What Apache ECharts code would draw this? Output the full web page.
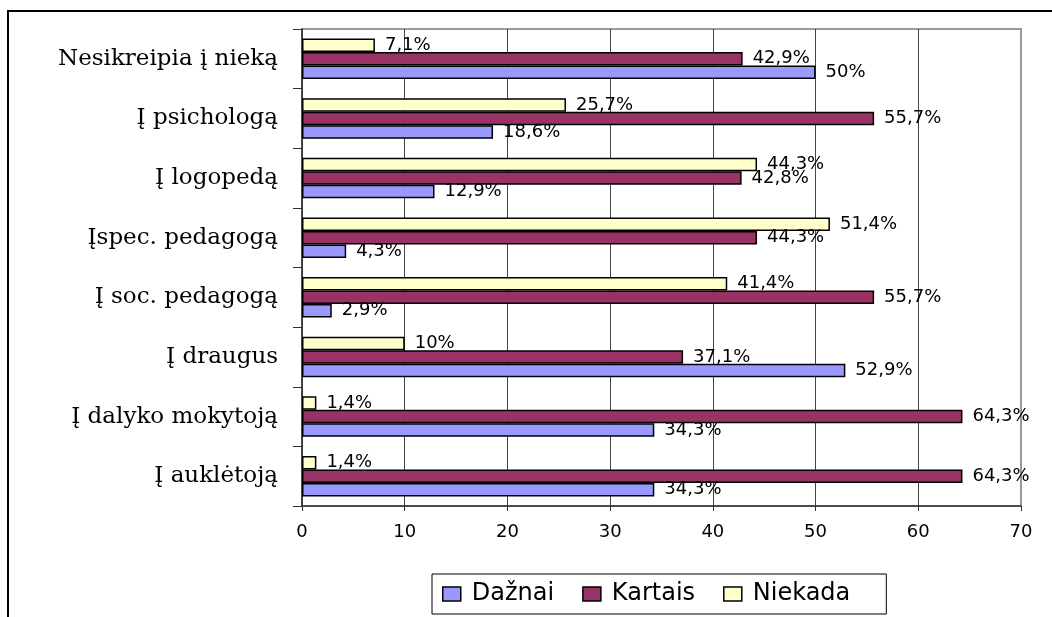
<!DOCTYPE html>
<html>
<head>
<meta charset="utf-8">
<style>
  html, body { margin: 0; padding: 0; background: #fff; }
  #chart { width: 1052px; height: 617px; }
</style>
<script src="https://cdn.jsdelivr.net/npm/echarts@6/dist/echarts.min.js"></script>
</head>
<body>
<div id="chart"></div>
<script>
// kategorijos (nuo apačios į viršų)
const categories = ['Į auklėtoją', 'Į dalyko mokytoją', 'Į draugus', 'Į soc. pedagogą',
  'Įspec. pedagogą', 'Į logopedą', 'Į psichologą', 'Nesikreipia į nieką']
const daznai = [34.3, 34.3, 52.9, 2.9, 4.3, 12.9, 18.6, 50]
const kartais = [64.3, 64.3, 37.1, 55.7, 44.3, 42.8, 55.7, 42.9]
const niekada = [1.4, 1.4, 10, 41.4, 51.4, 44.3, 25.7, 7.1]
const seriesNames = ['Dažnai', 'Kartais', 'Niekada']
const colors = ['#9999FF', '#993366', '#FFFFCC']

const chart = echarts.init(document.getElementById('chart'))

function makeSeries (name, data, color) {
  return {
    name: name,
    type: 'bar',
    data: data,
    barGap: '0%',
    barCategoryGap: '32%',
    itemStyle: { color: color, borderColor: '#000', borderWidth: 1.5 },
    label: {
      show: true,
      position: 'right',
      distance: 10,
      color: '#000',
      fontFamily: 'DejaVu Sans',
      fontSize: 18,
      formatter: p => String(p.value).replace('.', ',') + '%'
    }
  }
}

const option = {
  backgroundColor: '#fff',
  animation: false,
  graphic: [{
    type: 'rect',
    shape: { x: 8, y: 11, width: 2000, height: 2000 },
    style: { fill: 'none', stroke: '#000', lineWidth: 2 },
    silent: true
  }],
  grid: {
    left: 302,
    right: 31,
    top: 29,
    bottom: 111,
    show: true,
    borderColor: '#999',
    borderWidth: 2
  },
  legend: {
    data: seriesNames,
    left: 432,
    top: 574,
    itemWidth: 18,
    itemHeight: 14,
    itemGap: 28,
    padding: [8, 36, 8, 10],
    borderColor: '#000',
    borderWidth: 1,
    icon: 'rect',
    itemStyle: { borderColor: '#000', borderWidth: 1.5 },
    textStyle: { fontFamily: 'DejaVu Sans', fontSize: 24, color: '#000', padding: [0, 0, 0, 6] }
  },
  xAxis: {
    type: 'value',
    min: 0,
    max: 70,
    interval: 10,
    axisLine: { show: true, lineStyle: { color: '#333', width: 1.5 } },
    axisTick: { show: true, length: 5, lineStyle: { color: '#333' } },
    splitLine: { show: true, showMaxLine: false, lineStyle: { color: '#444', width: 1 } },
    axisLabel: { fontFamily: 'DejaVu Sans', fontSize: 18, color: '#000', margin: 17 }
  },
  yAxis: {
    type: 'category',
    data: categories,
    axisLine: { show: true, lineStyle: { color: '#333', width: 1.5 } },
    axisTick: { show: true, length: 9, lineStyle: { color: '#333' } },
    axisLabel: { fontFamily: 'DejaVu Serif', fontSize: 23, color: '#000', margin: 24 }
  },
  // ECharts kloja pirmą seriją viršuje, todėl eilė apversta
  series: [
    makeSeries(seriesNames[2], niekada, colors[2]),
    makeSeries(seriesNames[1], kartais, colors[1]),
    makeSeries(seriesNames[0], daznai, colors[0])
  ]
}

chart.setOption(option)
</script>
</body>
</html>
